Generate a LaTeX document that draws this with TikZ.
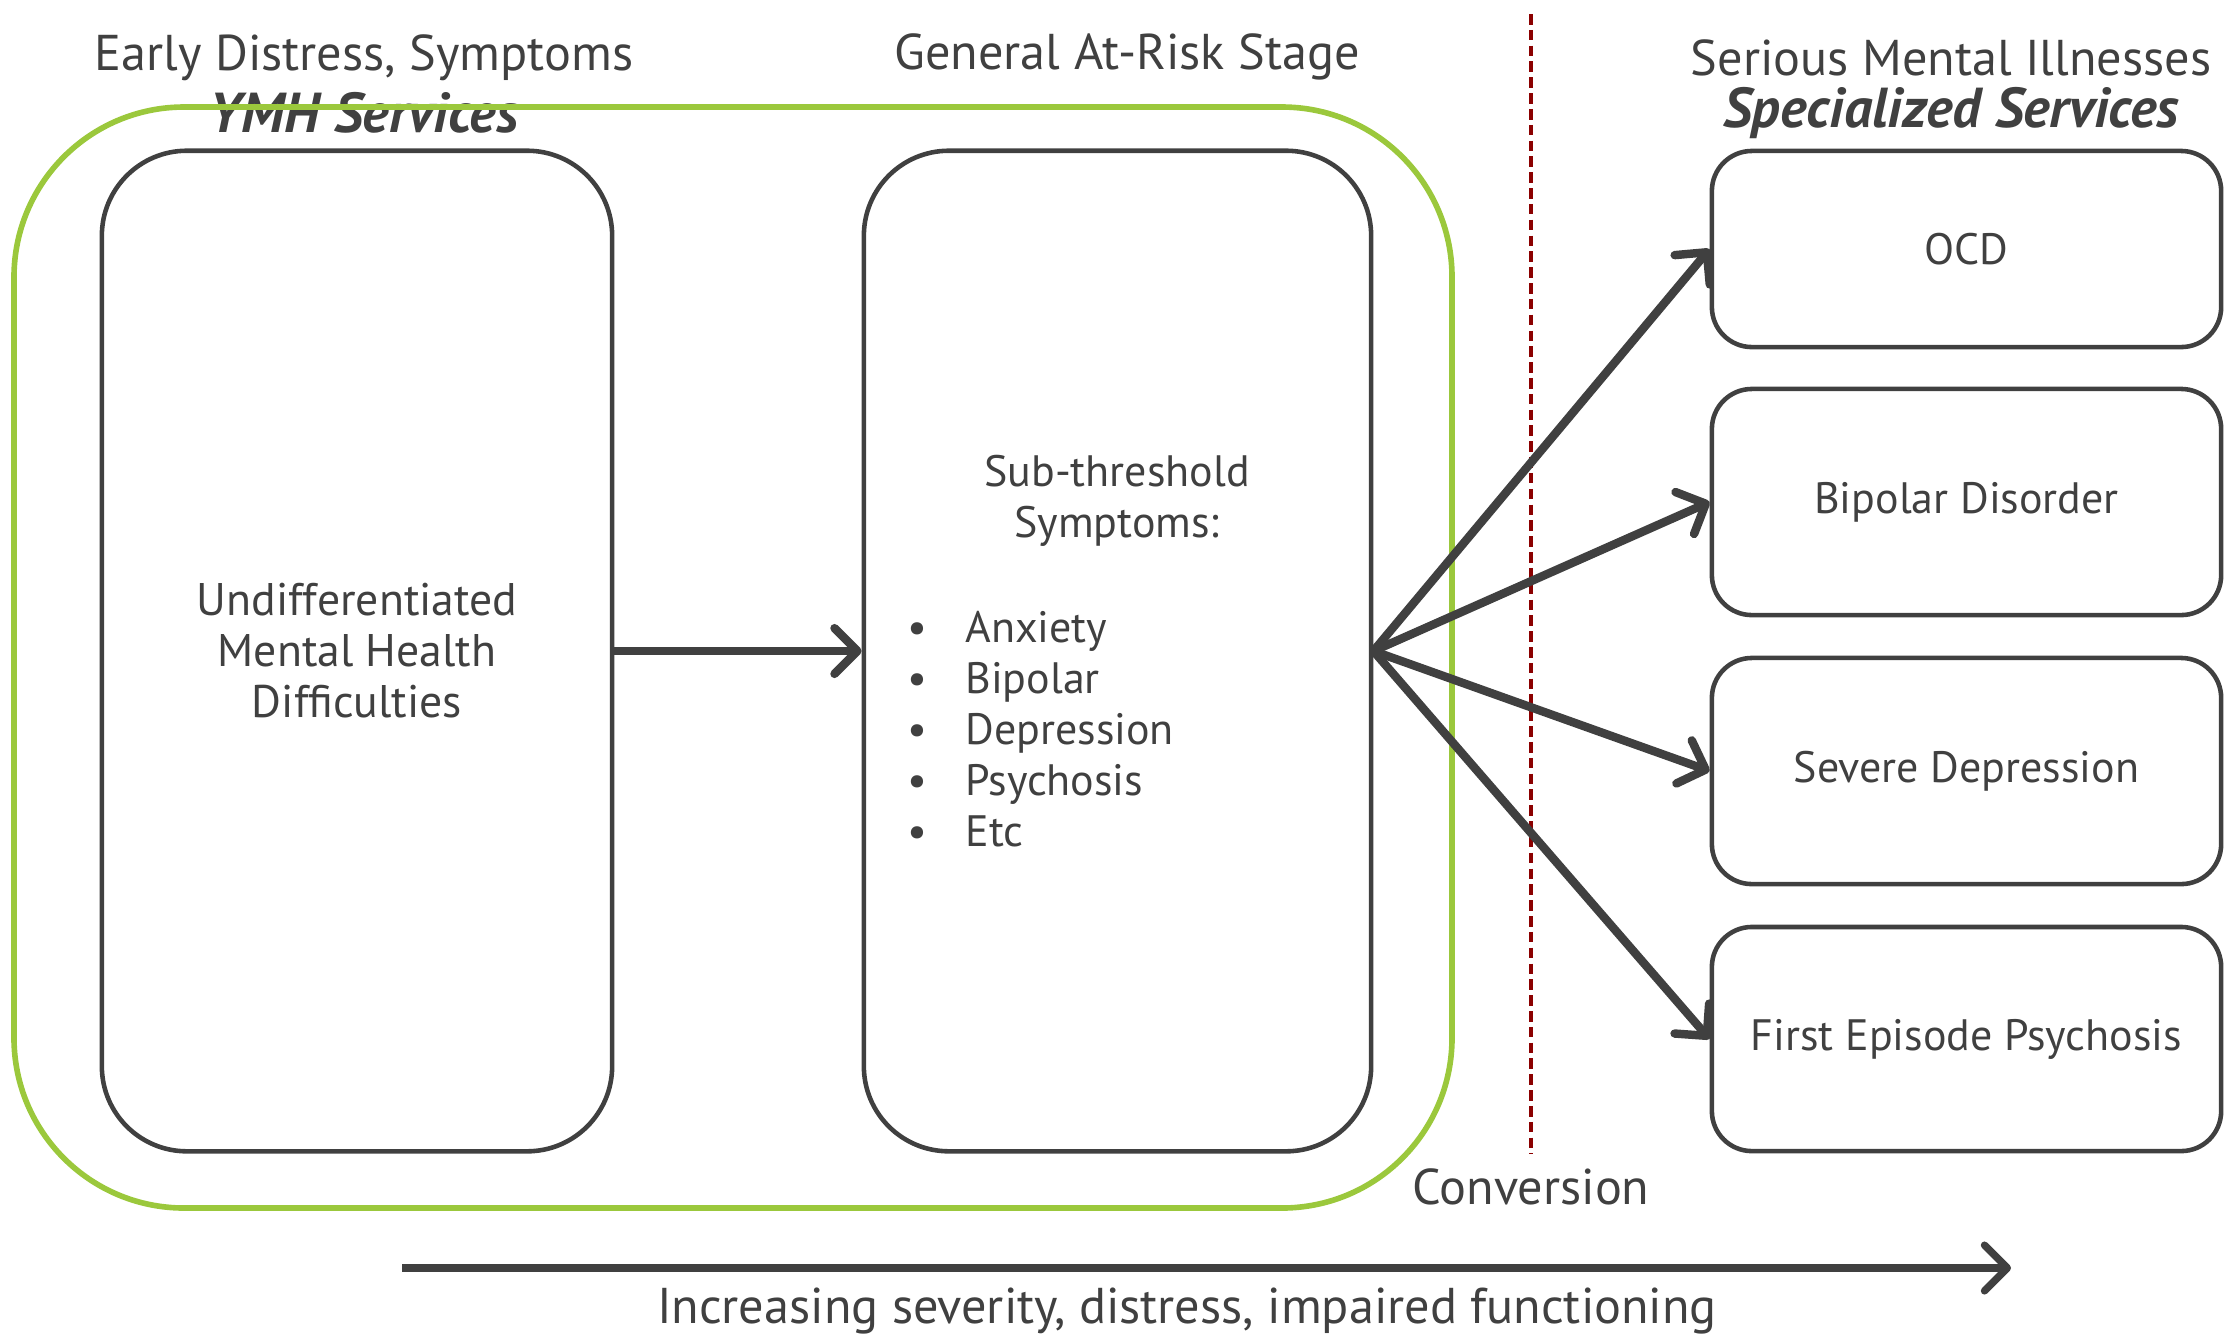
\documentclass[tikz,border=0pt]{standalone}
\usepackage{fontspec}
\setmainfont{PT Sans}
\usetikzlibrary{positioning,arrows.meta}
\definecolor{txtgray}{HTML}{404040}
\definecolor{ymhgreen}{HTML}{9BC83C}
\definecolor{convred}{HTML}{8B0000}
\newcommand{\symitem}[1]{\makebox[0.58cm][l]{\textbullet}#1}

\begin{document}
\begin{tikzpicture}[x=0.01cm,y=-0.01cm,
  every node/.style={text=txtgray, font=\fontsize{12.5}{14.5}\selectfont},
  stagebox/.style={draw=txtgray, line width=1.3pt, rounded corners=0.85cm, minimum height=10cm, align=center},
  illbox/.style={draw=txtgray, line width=1.3pt, rounded corners=0.4cm, minimum width=5.09cm, align=center},
  flow/.style={draw=txtgray, line width=2.4pt, -{Straight Barb[length=6.5pt,width=13pt,round]}},
  head/.style={font=\fontsize{14.3}{16}\selectfont, align=center},
  service/.style={font=\fontsize{16}{18}\selectfont\bfseries\itshape}
]
\useasboundingbox (0,0) rectangle (2228,1341);

% stage headings
\node[head] (early) at (364,58) {Early Distress, Symptoms};
\node[service] (ymh) at (364,113) {YMH Services};
\node[head] (general) at (1127,57) {General At-Risk Stage};
\node[head] (serious) at (1951,58) {Serious Mental Illnesses};
\node[service] (special) at (1951,113) {Specialized Services};

% youth mental health frame
\draw[ymhgreen, line width=1.6pt, rounded corners=1.7cm] (14,107) rectangle (1452,1208);

\node[stagebox, minimum width=5.1cm, font=\fontsize{13}{14.5}\selectfont] (undif) at (357,651) {Undifferentiated\\Mental Health\\Difficulties};
\node[stagebox, minimum width=5.07cm] (risk) at (1117.5,651) {};
\node[align=center] (subttl) at (1117,501) {Sub-threshold\\Symptoms:};
\node[align=left, anchor=west] (sympt) at (895,729) {\symitem{Anxiety}\\\symitem{Bipolar}\\\symitem{Depression}\\\symitem{Psychosis}\\\symitem{Etc}};

\node[illbox, minimum height=1.96cm] (ocd) at (1966.5,249) {OCD};
\node[illbox, minimum height=2.26cm] (bipolar) at (1966.5,502) {Bipolar Disorder};
\node[illbox, minimum height=2.26cm] (severe) at (1966.5,771) {Severe Depression};
\node[illbox, minimum height=2.24cm] (fep) at (1966.5,1039) {First Episode Psychosis};

% conversion line
\coordinate (dtop) at (1531,14);
\coordinate (dbot) at (1531,1154);
\draw[convred, line width=1.2pt, dash pattern=on 3pt off 1.5pt] (dtop) -- (dbot);
\node[head] (conv) at (1531,1187) {Conversion};

\draw[flow] (undif.east) -- (risk.west);
\foreach \ill in {ocd,bipolar,severe,fep}
  \draw[flow] (risk.east) -- (\ill.west);

% severity axis
\coordinate (sevL) at (402,1268);
\coordinate (sevR) at (2011,1268);
\draw[flow, line width=2.1pt] (sevL) -- (sevR);
\node[head] (sevtxt) at (1187,1311) {Increasing severity, distress, impaired functioning};
\end{tikzpicture}
\end{document}
